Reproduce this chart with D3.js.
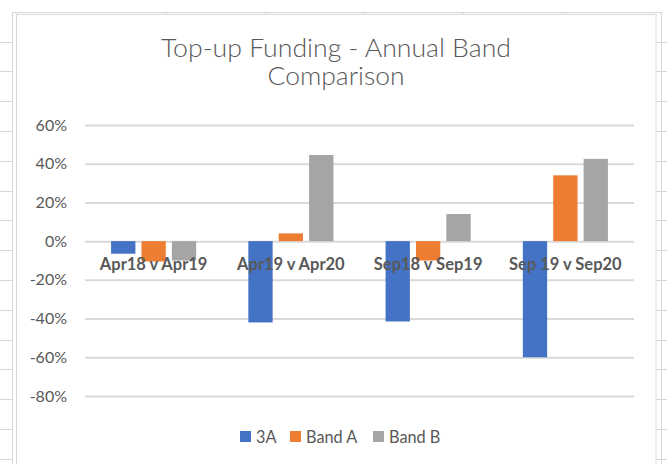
<!DOCTYPE html>
<html>
<head>
<meta charset="utf-8">
<script src="https://cdn.jsdelivr.net/npm/d3@7"></script>
<style>
  html, body { margin: 0; padding: 0; background: #fff; }
  svg { display: block; }
  text { font-family: Lato, "Open Sans", "DejaVu Sans", sans-serif; fill: #595959; }
</style>
</head>
<body>
<svg id="chart" width="667" height="464"></svg>
<script>
const categories = ["Apr18 v Apr19", "Apr19 v Apr20", "Sep18 v Sep19", "Sep 19 v Sep20"];
const seriesNames = ["3A", "Band A", "Band B"];
const values3A = [-0.065, -0.42, -0.415, -0.60];
const valuesBandA = [-0.105, 0.04, -0.10, 0.34];
const valuesBandB = [-0.10, 0.445, 0.14, 0.425];
const yTicks = [-0.8, -0.6, -0.4, -0.2, 0, 0.2, 0.4, 0.6];
const titleLines = ["Top-up Funding - Annual Band", "Comparison"];
const colors = ["#4472C4", "#ED7D31", "#A5A5A5"];

const seriesValues = [values3A, valuesBandA, valuesBandB];
const svg = d3.select("#chart");

// spreadsheet background grid
const bg = svg.append("g").attr("stroke", "#D6D6D6").attr("stroke-width", 1).attr("fill", "none");
bg.append("path").attr("d", "M12.5,464V12.5H661.5V464");
for (let y = 41.5; y < 464; y += 29.8) {
  bg.append("line").attr("x1", 0).attr("x2", 12).attr("y1", Math.round(y) + 0.5).attr("y2", Math.round(y) + 0.5);
  bg.append("line").attr("x1", 656).attr("x2", 667).attr("y1", Math.round(y) + 0.5).attr("y2", Math.round(y) + 0.5);
}
[166.5, 265.5, 364.5, 463.5, 562.5].forEach(x => {
  bg.append("line").attr("x1", x).attr("x2", x).attr("y1", 12).attr("y2", 15);
});
// chart border
svg.append("rect").attr("x", 16.5).attr("y", 14.5).attr("width", 639.5).attr("height", 470)
  .attr("fill", "#fff").attr("stroke", "#D9D9D9").attr("stroke-width", 1);

const plot = { left: 85, right: 634, top: 125, bottom: 396 };

const y = d3.scaleLinear().domain([-0.8, 0.6]).range([plot.bottom, plot.top]);
const x0 = d3.scaleBand().domain(categories).range([plot.left, plot.right])
  .paddingInner(0.38).paddingOuter(0.19);
const x1 = d3.scaleBand().domain(seriesNames).range([0, x0.bandwidth()])
  .paddingInner(0.2).paddingOuter(0);

// y axis with gridlines
const yAxis = d3.axisLeft(y).tickValues(yTicks)
  .tickFormat(d => Math.round(d * 100) + "%")
  .tickSizeInner(-(plot.right - plot.left)).tickSizeOuter(0).tickPadding(18);
const gy = svg.append("g").attr("transform", `translate(${plot.left},0)`).call(yAxis);
gy.select(".domain").remove();
gy.selectAll(".tick line").attr("stroke", "#D9D9D9").attr("stroke-width", 2);
gy.selectAll(".tick text").attr("font-size", 16).attr("fill", "#595959").style("font-family", "Lato, sans-serif");

// bars
const groups = svg.append("g").selectAll("g").data(categories).join("g")
  .attr("transform", d => `translate(${x0(d)},0)`);
groups.selectAll("rect")
  .data((c, i) => seriesNames.map((s, k) => ({ s, v: seriesValues[k][i], k })))
  .join("rect")
  .attr("x", d => x1(d.s))
  .attr("width", x1.bandwidth())
  .attr("y", d => y(Math.max(0, d.v)))
  .attr("height", d => Math.abs(y(d.v) - y(0)))
  .attr("fill", d => colors[d.k]);

// category axis at zero
const xAxis = d3.axisBottom(x0).tickSize(0).tickPadding(0);
const gx = svg.append("g").attr("transform", `translate(0,${y(0)})`).call(xAxis);
gx.select(".domain").remove();
gx.selectAll(".tick text").attr("dy", null).attr("y", 29)
  .attr("font-size", 16.5).attr("font-weight", "bold").attr("fill", "#595959")
  .style("font-family", "Lato, sans-serif");

// title
const titleWidths = [350, 137];
svg.append("g").selectAll("text").data(titleLines).join("text")
  .attr("x", 336).attr("y", (d, i) => 57 + i * 28)
  .attr("text-anchor", "middle").attr("font-size", 24.5).attr("font-weight", 300)
  .attr("textLength", (d, i) => titleWidths[i]).attr("lengthAdjust", "spacingAndGlyphs")
  .text(d => d);

// legend
const legendX = [240, 290, 373];
const lg = svg.append("g").selectAll("g").data(seriesNames).join("g")
  .attr("transform", (d, i) => `translate(${legendX[i]},0)`);
lg.append("rect").attr("x", 0).attr("y", 431).attr("width", 11).attr("height", 11)
  .attr("fill", (d, i) => colors[i]);
lg.append("text").attr("x", 16).attr("y", 442.5).attr("font-size", 16.3).text(d => d);
</script>
</body>
</html>
